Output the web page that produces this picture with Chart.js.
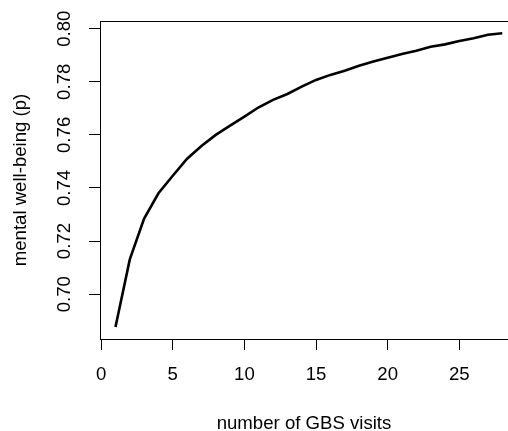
<!DOCTYPE html>
<html>
<head>
<meta charset="utf-8">
<script src="https://cdn.jsdelivr.net/npm/chart.js@4/dist/chart.umd.min.js"></script>
<style>
  html, body { margin: 0; padding: 0; background: #fff; overflow: hidden; }
  canvas { display: block; }
</style>
</head>
<body>
<canvas id="chart" width="508" height="431"></canvas>
<script>
// number of GBS visits and the fitted probability of mental well-being
const visits = [1, 2, 3, 4, 5, 6, 7, 8, 9, 10, 11, 12, 13, 14,
                15, 16, 17, 18, 19, 20, 21, 22, 23, 24, 25, 26, 27, 28];
const wellBeing = [0.6876, 0.7131, 0.7285, 0.7380, 0.7446, 0.7510, 0.7558,
                   0.7600, 0.7635, 0.7669, 0.7704, 0.7732, 0.7754, 0.7782,
                   0.7807, 0.7826, 0.7842, 0.7860, 0.7876, 0.7891, 0.7905,
                   0.7917, 0.7932, 0.7941, 0.7954, 0.7964, 0.7977, 0.7983];
const xTicks = [0, 5, 10, 15, 20, 25];
const yTicks = [0.70, 0.72, 0.74, 0.76, 0.78, 0.80];

const font = { family: "'Liberation Sans', Arial, sans-serif", size: 18.6, lineHeight: 1.2 };

// R draws a box round the plot; only the top edge is missing from the axes
const topEdge = {
    id: "topEdge",
    afterDraw(chart) {
        const { ctx, chartArea } = chart;
        ctx.save();
        ctx.strokeStyle = "#000";
        ctx.lineWidth = 1;
        ctx.beginPath();
        ctx.moveTo(chartArea.left, chartArea.top + 0.5);
        ctx.lineTo(chartArea.right, chartArea.top + 0.5);
        ctx.stroke();
        ctx.restore();
    }
};

new Chart(document.getElementById("chart"), {
    type: "line",
    data: {
        datasets: [{
            data: visits.map((v, i) => ({ x: v, y: wellBeing[i] })),
            borderColor: "#000",
            borderWidth: 2.6,
            pointRadius: 0,
            tension: 0,
            fill: false
        }]
    },
    options: {
        responsive: false,
        animation: false,
        devicePixelRatio: 1,
        layout: { padding: { top: 21, left: 0, right: 0, bottom: 0 } },
        plugins: { legend: { display: false }, tooltip: { enabled: false } },
        scales: {
            x: {
                type: "linear",
                min: -0.08,
                max: 28.4,
                afterBuildTicks: s => { s.ticks = xTicks.map(v => ({ value: v })); },
                afterFit: s => { s.height = 92; },
                ticks: {
                    color: "#000",
                    font: font,
                    padding: 14,
                    minRotation: 0,
                    maxRotation: 0,
                    callback: v => String(v)
                },
                grid: { drawOnChartArea: false, drawTicks: true, tickLength: 11, color: "#000", lineWidth: 1 },
                border: { display: true, color: "#000", width: 1 },
                title: {
                    display: true,
                    text: "number of GBS visits",
                    color: "#000",
                    font: font,
                    padding: { top: 0, bottom: -4 }
                }
            },
            y: {
                type: "linear",
                min: 0.6831,
                max: 0.8029,
                afterBuildTicks: s => { s.ticks = yTicks.map(v => ({ value: v })); },
                afterFit: s => { s.width = 100; },
                ticks: {
                    color: "#000",
                    font: font,
                    padding: 6,
                    minRotation: 90,
                    maxRotation: 90,
                    crossAlign: "center",
                    callback: v => v.toFixed(2)
                },
                grid: { drawOnChartArea: false, drawTicks: true, tickLength: 11, color: "#000", lineWidth: 1 },
                border: { display: true, color: "#000", width: 1 },
                title: {
                    display: true,
                    text: "mental well-being (p)",
                    color: "#000",
                    font: font,
                    padding: { top: 10, bottom: 0 }
                }
            }
        }
    },
    plugins: [topEdge]
});
</script>
</body>
</html>
